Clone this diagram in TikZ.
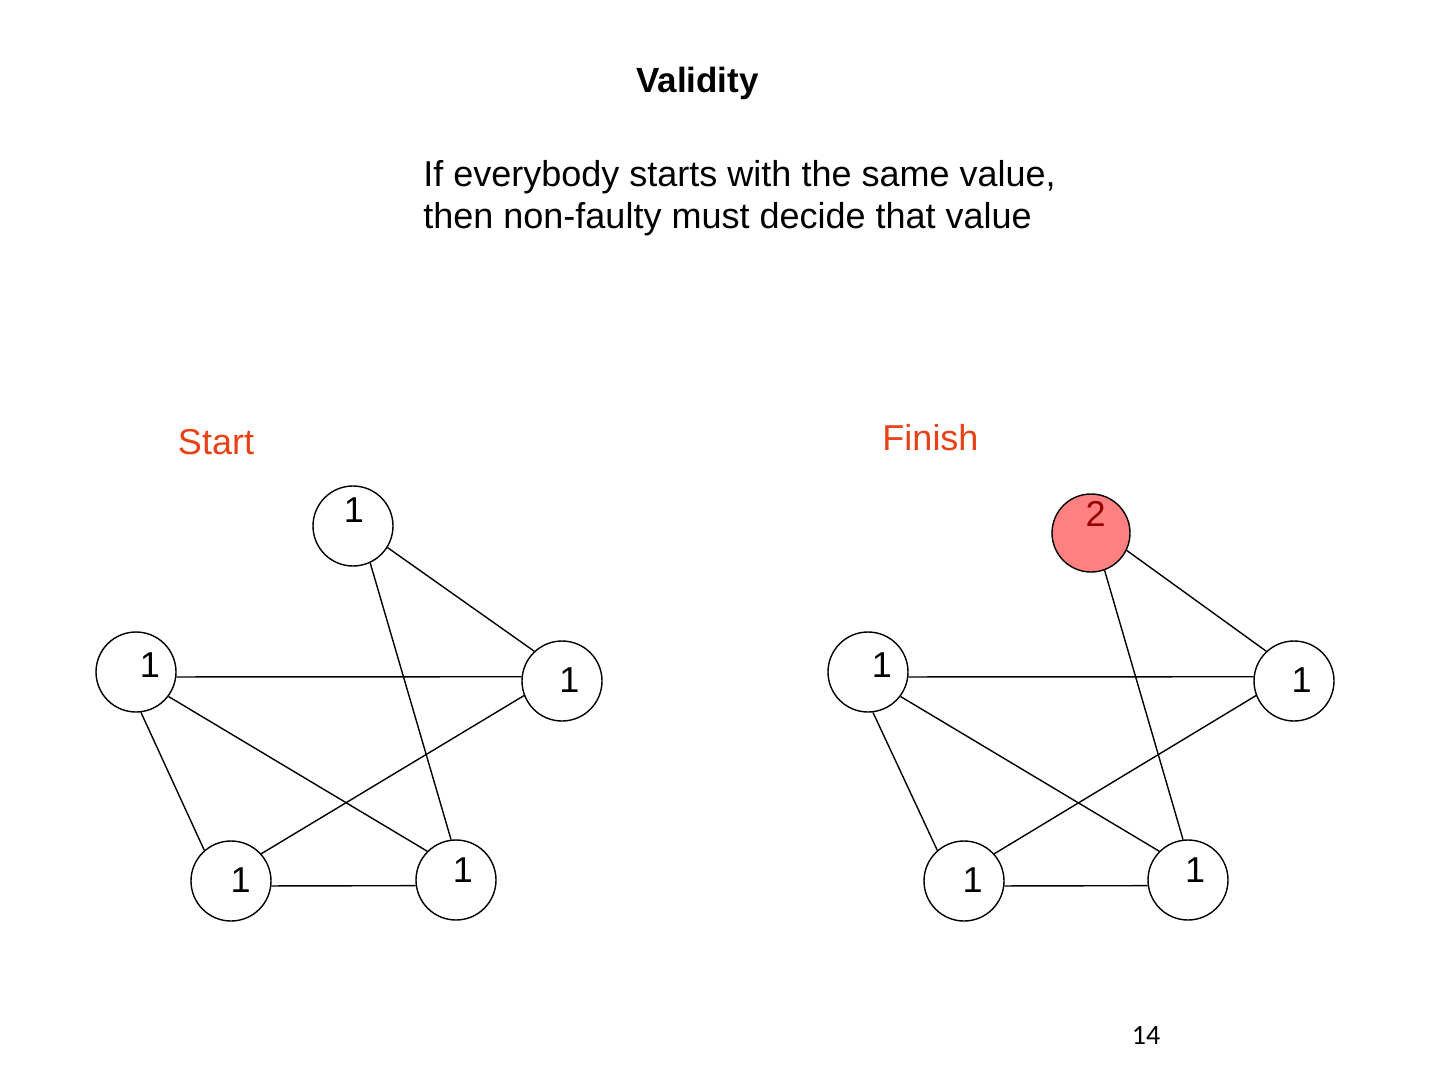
\documentclass[tikz,border=0pt]{standalone}
\usepackage{fontspec}
\setmainfont{Liberation Sans}
\newfontfamily\numfont{Carlito}
\definecolor{labred}{RGB}{232,65,24}
\definecolor{faultfill}{RGB}{255,128,128}
\definecolor{faulttext}{RGB}{150,0,0}
\begin{document}
\begin{tikzpicture}[x=0.5pt,y=-0.5pt,
  proc/.style={circle,draw,line width=0.7pt,minimum size=40pt,inner sep=0pt},
  edge/.style={line width=0.7pt},
  val/.style={font=\fontsize{18}{21}\selectfont,anchor=base,inner sep=0pt},
  txt/.style={font=\fontsize{18}{21}\selectfont,anchor=base west,inner sep=0pt},
  phase/.style={font=\fontsize{18}{21}\selectfont,anchor=base,inner sep=0pt,text=labred}]
\useasboundingbox[fill=white] (0,0) rectangle (1440,1080);

% texts
\node[font=\bfseries\fontsize{17.5}{21}\selectfont,anchor=base,inner sep=0pt] (title) at (697.5,93) {Validity};
\node[txt] (line1) at (423,187) {If everybody starts with the same value,};
\node[txt] (line2) at (423,229) {then non-faulty must decide that value};
\node[phase] (start) at (216,454) {Start};
\node[phase] (finish) at (930.5,451) {Finish};
\node[font=\numfont\fontsize{14}{16}\selectfont,anchor=base,inner sep=0pt] (page) at (1146,1044) {14};

% left graph
\node[proc] (T1) at (353,526) {};
\node[proc] (L1) at (136,672) {};
\node[proc] (R1) at (562,681) {};
\node[proc] (BL1) at (231,881) {};
\node[proc] (BR1) at (456,880) {};
\node[val] (t1v) at (354,523) {1};
\node[val] (l1v) at (150,677) {1};
\node[val] (r1v) at (569.5,692) {1};
\node[val] (bl1v) at (240.6,892) {1};
\node[val] (br1v) at (463,882) {1};
\draw[edge] (T1.-32.6) -- (R1.133.6);
\draw[edge] (T1.-65.7) -- (BR1.97);
\draw[edge] (L1.-7) -- (R1.174);
\draw[edge] (L1.-37) -- (BR1.135);
\draw[edge] (L1.-83) -- (BL1.131);
\draw[edge] (BL1.42.4) -- (R1.201);
\draw[edge] (BL1.-7) -- (BR1.188.5);

% right graph
\node[proc,fill=faultfill,minimum size=39pt] (T2) at (1091,533) {};
\node[proc] (L2) at (868,672) {};
\node[proc] (R2) at (1294,681) {};
\node[proc] (BL2) at (964,881) {};
\node[proc] (BR2) at (1188,880) {};
\node[val,text=faulttext] (t2v) at (1095.5,526) {2};
\node[val] (l2v) at (882,677) {1};
\node[val] (r2v) at (1301.5,692) {1};
\node[val] (bl2v) at (972.5,892) {1};
\node[val] (br2v) at (1195,882.5) {1};
\draw[edge] (T2.-26.6) -- (R2.133);
\draw[edge] (T2.-70) -- (BR2.97);
\draw[edge] (L2.-7) -- (R2.174);
\draw[edge] (L2.-37) -- (BR2.135);
\draw[edge] (L2.-83) -- (BL2.131);
\draw[edge] (BL2.42.4) -- (R2.201);
\draw[edge] (BL2.-7) -- (BR2.188.5);
\end{tikzpicture}
\end{document}
